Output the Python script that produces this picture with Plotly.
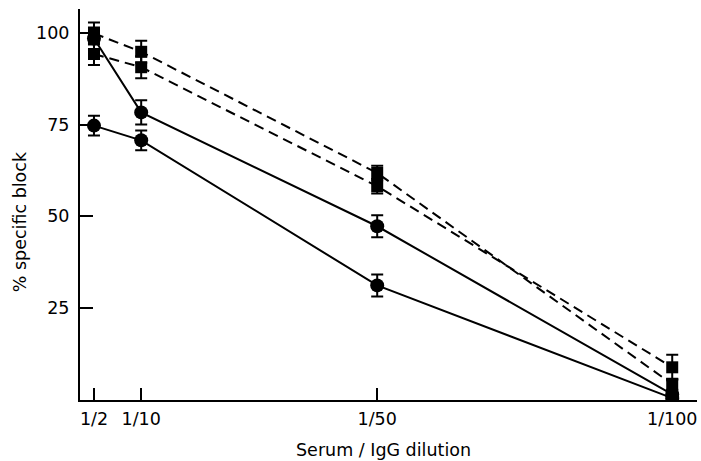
import plotly.graph_objects as go

# Dilutions (denominator) and tick labels
dilution = [2, 10, 50, 100]
tick_labels = ["1/2", "1/10", "1/50", "1/100"]
y_ticks = [25, 50, 75, 100]

# Squares (dashed lines)
sq_a = [99.8, 94.8, 61.8, 4.3]
sq_a_err = [3, 3, 2, 1.5]
sq_b = [94.2, 90.6, 58.2, 8.9]
sq_b_err = [3, 3, 2, 3.4]

# Circles (solid lines)
ci_c = [98.4, 78.3, 47.3, 1.5]
ci_c_err = [3, 3.3, 3, 1]
ci_d = [74.7, 70.7, 31.2, 0.5]
ci_d_err = [2.7, 2.7, 3, 1]

fig = go.Figure()

def add(y, err, symbol, size, dash):
    fig.add_trace(go.Scatter(
        x=dilution, y=y,
        mode="lines+markers",
        line=dict(color="black", width=2, dash=dash),
        marker=dict(symbol=symbol, size=size, color="black"),
        error_y=dict(type="data", array=err, visible=True, color="black",
                     thickness=2, width=6),
        showlegend=False,
    ))

add(sq_a, sq_a_err, "square", 12, "10px,6px")
add(sq_b, sq_b_err, "square", 12, "10px,6px")
add(ci_c, ci_c_err, "circle", 14, "solid")
add(ci_d, ci_d_err, "circle", 14, "solid")

font_ticks = dict(family="DejaVu Sans", size=17.5, color="black")
font_title = dict(family="DejaVu Sans", size=17.5, color="black")

fig.update_layout(
    width=701, height=461,
    margin=dict(l=80, r=4, t=9, b=61),
    paper_bgcolor="white", plot_bgcolor="white",
    xaxis=dict(
        range=[-0.37, 104.2],
        tickmode="array", tickvals=dilution, ticktext=tick_labels,
        ticks="inside", ticklen=12, tickwidth=2, tickcolor="black",
        showline=True, linecolor="black", linewidth=2,
        showgrid=False, zeroline=False,
        tickfont=font_ticks, ticklabelstandoff=2,
    ),
    yaxis=dict(
        range=[0, 106.45],
        tickmode="array", tickvals=y_ticks,
        ticks="inside", ticklen=13, tickwidth=2, tickcolor="black",
        showline=True, linecolor="black", linewidth=2,
        showgrid=False, zeroline=False,
        tickfont=font_ticks, ticklabelstandoff=5,
    ),
    annotations=[
        dict(text="Serum / IgG dilution", xref="paper", yref="paper",
             x=0.4927, y=-0.128, xanchor="center", yanchor="middle",
             showarrow=False, font=font_title),
        dict(text="% specific block", xref="paper", yref="paper",
             x=-0.097, y=0.455, xanchor="center", yanchor="middle",
             textangle=-90, showarrow=False, font=font_title),
    ],
)

fig.write_html("out.html")
